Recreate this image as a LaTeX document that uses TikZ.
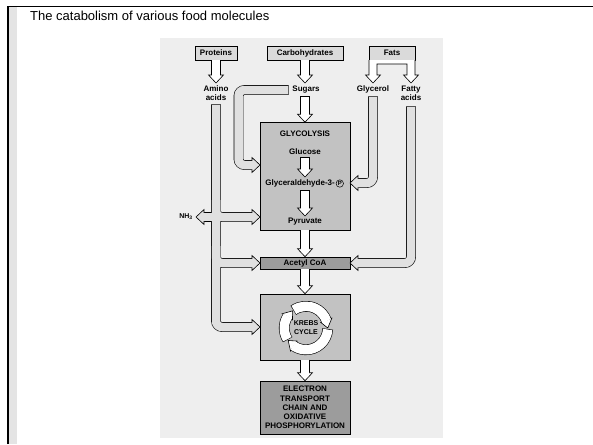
\documentclass[tikz,border=0pt]{standalone}
\usepackage{fontspec}
\setmainfont{Liberation Sans}
\usetikzlibrary{calc}
\pgfdeclarelayer{boxes}\pgfdeclarelayer{outl}\pgfdeclarelayer{heads}\pgfdeclarelayer{fills}
\pgfsetlayers{boxes,outl,heads,fills,main}
\definecolor{panel}{HTML}{EEEEEE}
\definecolor{lblfill}{HTML}{DADADA}
\definecolor{midbox}{HTML}{C2C2C2}
\definecolor{darkbox}{HTML}{9C9C9C}
\definecolor{bandc}{HTML}{E0E0E0}
\definecolor{strip}{HTML}{E4E4E4}
\newcommand\shaft[4]{%
 \begin{pgfonlayer}{outl}\draw[line width=#3, rounded corners=6pt, shorten <=-0.6pt] #4;\end{pgfonlayer}
 \begin{pgfonlayer}{fills}\draw[draw=#1, line width=#2, rounded corners=6pt, shorten >=-1.5pt] #4;\end{pgfonlayer}}
\newcommand\headD[2]{\begin{pgfonlayer}{heads}\filldraw[fill=#1,line width=.6pt,line join=miter] ($#2+(-7.5,-8)$) -- #2 -- ($#2+(7.5,-8)$) -- cycle;\end{pgfonlayer}}
\newcommand\headR[2]{\begin{pgfonlayer}{heads}\filldraw[fill=#1,line width=.6pt,line join=miter] ($#2+(-8,-7.5)$) -- #2 -- ($#2+(-8,7.5)$) -- cycle;\end{pgfonlayer}}
\newcommand\headL[2]{\begin{pgfonlayer}{heads}\filldraw[fill=#1,line width=.6pt,line join=miter] ($#2+(8,-7.5)$) -- #2 -- ($#2+(8,7.5)$) -- cycle;\end{pgfonlayer}}
\newcommand\varrow[3]{\shaft{#1}{8pt}{9.2pt}{#2 -- ($#3+(0,-8)$)}\headD{#1}{#3}}
\tikzset{
 lbltext/.style={font=\bfseries\fontsize{8}{9.2}\selectfont, align=center, inner sep=0pt},
 lblbox/.style={lbltext, draw, fill=lblfill, minimum height=14pt, line width=.7pt},
 bigbox/.style={draw, line width=.6pt, minimum width=90pt, inner sep=0pt},
}
\begin{document}
\begin{tikzpicture}[x=1pt,y=-1pt, line join=round]
\useasboundingbox (0,0) rectangle (593,444);
\begin{pgfonlayer}{boxes}
\fill[white] (0,0) rectangle (593,444);
\fill[strip] (9.3,7.5) rectangle (17.3,444);
\draw[line width=1.8pt] (8.2,444) -- (8.2,6.5) -- (593,6.5);
\fill[panel] (160,38) rectangle (443,438);
\node[lblbox, minimum width=42pt] (proteins) at (216,53) {Proteins};
\node[lblbox, minimum width=76pt] (carbs) at (305,53) {Carbohydrates};
\node[lblbox, minimum width=46pt] (fats) at (392,53) {Fats};
\node[bigbox, fill=midbox, minimum height=107.5pt] (glyc) at (305,176.25) {};
\node[bigbox, fill=darkbox, minimum height=12pt] (acetyl) at (305,263) {};
\node[bigbox, fill=midbox, minimum height=66pt] (krebs) at (305,327) {};
\node[bigbox, fill=darkbox, minimum height=53pt] (etc) at (305,407.5) {};
\end{pgfonlayer}

\node[anchor=west, font=\fontsize{13}{15}\selectfont, inner sep=0pt] (title) at (30,16) {The catabolism of various food molecules};

% labels
\node[lbltext] (amino) at (216,93.5) {Amino\\acids};
\node[lbltext] (sugars) at (306,89.5) {Sugars};
\node[lbltext] (glycerol) at (373,89.5) {Glycerol};
\node[lbltext] (fatty) at (411,93.5) {Fatty\\acids};
\node[lbltext] (glyctitle) at (305,134) {GLYCOLYSIS};
\node[lbltext] (glucose) at (305,152) {Glucose};
\node[lbltext, anchor=east] (g3p) at (335,183.5) {Glyceraldehyde-3-};
\node[circle, draw, line width=.5pt, inner sep=0.6pt, font=\bfseries\fontsize{6}{6}\selectfont] (pcirc) at ($(g3p.east)+(4.8,0)$) {P};
\node[lbltext] (pyruvate) at (305,221.5) {Pyruvate};
\node[lbltext] (acetyltext) at (acetyl) {Acetyl CoA};
\node[lbltext] (etctext) at (etc) {ELECTRON\\TRANSPORT\\CHAIN AND\\OXIDATIVE\\PHOSPHORYLATION};
\node[lbltext, font=\bfseries\fontsize{7}{8}\selectfont] (nh3) at (186,217) {NH\textsubscript{3}};

% coordinates for arrow tips and bends
\coordinate (aminoin) at (216,83);
\coordinate (sugarsin) at (305,83);
\coordinate (sugarsout) at (305,97);
\coordinate (glucout) at (305,158);
\coordinate (g3pin) at (305,177);
\coordinate (g3pout) at (305,191);
\coordinate (pyrin) at (305,216);
\coordinate (aminoout) at (216,105);
\coordinate (aminobend) at (216,327);
\coordinate (kin) at (260,327);
\coordinate (pyrbr) at (216,200);
\coordinate (pyrbend) at (216,217);
\coordinate (gin) at (260,217);
\coordinate (acbr) at (216,246);
\coordinate (acbend) at (216,263);
\coordinate (ain) at (260,263);
\coordinate (nhtip) at (196,217);
\coordinate (sugarsleft) at (288,90);
\coordinate (sbend1) at (238.5,90);
\coordinate (sbend2) at (238.5,165);
\coordinate (sin) at (260,165);
\coordinate (glyout) at (373,97);
\coordinate (glybend) at (373,183);
\coordinate (glyin) at (350,183);
\coordinate (fatout) at (411,107);
\coordinate (fatbend) at (411,263);
\coordinate (fatin) at (350,263);

% short arrows
\varrow{white}{(proteins.south)}{(aminoin)}
\varrow{white}{(carbs.south)}{(sugarsin)}
\varrow{white}{(sugarsout)}{(glyc.north)}
\varrow{white}{(glucout)}{(g3pin)}
\varrow{white}{(g3pout)}{(pyrin)}
\varrow{white}{(glyc.south)}{(acetyl.north)}
\varrow{white}{(acetyl.south)}{(krebs.north)}
\varrow{white}{(krebs.south)}{(etc.north)}

% bands
\shaft{bandc}{8.5pt}{9.7pt}{(aminoout) -- (aminobend) -- ($(kin)+(-8,0)$)}\headR{bandc}{(kin)}
\shaft{bandc}{8.5pt}{9.7pt}{(pyrbr) -- (pyrbend) -- ($(gin)+(-8,0)$)}\headR{bandc}{(gin)}
\shaft{bandc}{8.5pt}{9.7pt}{(acbr) -- (acbend) -- ($(ain)+(-8,0)$)}\headR{bandc}{(ain)}
\shaft{bandc}{8.5pt}{9.7pt}{(pyrbend) -- ($(nhtip)+(8,0)$)}\headL{bandc}{(nhtip)}
\shaft{bandc}{8.5pt}{9.7pt}{(sugarsleft) -- (sbend1) -- (sbend2) -- ($(sin)+(-8,0)$)}\headR{bandc}{(sin)}
\shaft{bandc}{8.5pt}{9.7pt}{(glyout) -- (glybend) -- ($(glyin)+(8,0)$)}\headL{bandc}{(glyin)}
\shaft{bandc}{8.5pt}{9.7pt}{(fatout) -- (fatbend) -- ($(fatin)+(8,0)$)}\headL{bandc}{(fatin)}

% fats fork
\fill[white] (369,60) -- (369,75) -- (365.5,75) -- (373,83) -- (380.5,75) -- (377,75) -- (377,64) -- (407,64) -- (407,75) -- (403.5,75) -- (411,83) -- (418.5,75) -- (415,75) -- (415,60) -- cycle;
\draw[line width=.6pt, line join=miter] (369,60) -- (369,75) -- (365.5,75) -- (373,83) -- (380.5,75) -- (377,75) -- (377,64) -- (407,64) -- (407,75) -- (403.5,75) -- (411,83) -- (418.5,75) -- (415,75) -- (415,60);

% Krebs ring
\coordinate (kc) at (306,328);
\foreach \os/\b in {125.5/21, -2.5/-124, -147.5/-211}
  \draw[line width=10.7pt] ($(kc)+(\os:21.75pt)$) arc[start angle=\os, end angle=\b, radius=21.75pt];
\foreach \b/\t in {21/0, -124/-145, -211/-232}
  \filldraw[fill=white, line width=.6pt, line join=miter] ($(kc)+(\b:15.75pt)$) -- ($(kc)+(\t:21.75pt)$) -- ($(kc)+(\b:27.75pt)$) -- cycle;
\foreach \fs/\fe in {124/19, -4/-126, -149/-213}
  \draw[line width=9.5pt, white] ($(kc)+(\fs:21.75pt)$) arc[start angle=\fs, end angle=\fe, radius=21.75pt];
\node[lbltext, font=\bfseries\fontsize{7}{9}\selectfont] (krebstext) at (kc) {KREBS\\CYCLE};
\end{tikzpicture}
\end{document}
